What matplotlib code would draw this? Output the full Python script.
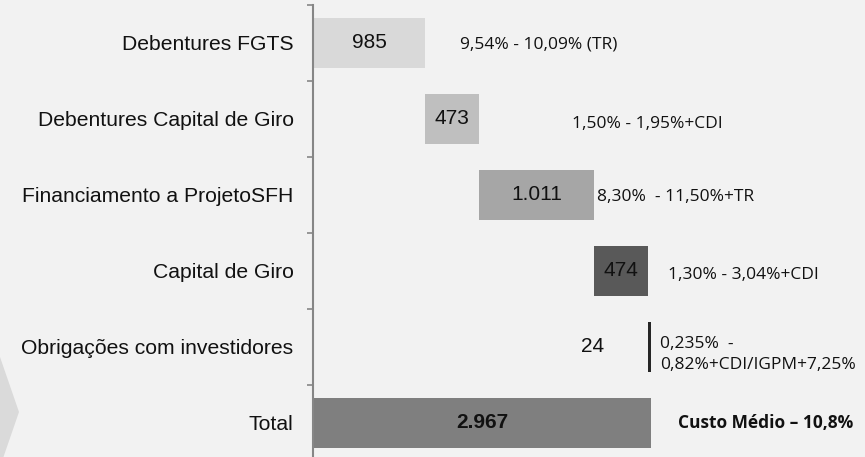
import matplotlib
matplotlib.use("Agg")
import matplotlib.pyplot as plt
from matplotlib.patches import Polygon

# data
categories = ["Debentures FGTS", "Debentures Capital de Giro", "Financiamento a ProjetoSFH",
              "Capital de Giro", "Obrigações com investidores", "Total"]
values = [985, 473, 1011, 474, 24, 2967]
value_labels = ["985", "473", "1.011", "474", "24", "2.967"]
rate_notes = ["9,54% - 10,09% (TR)", "1,50% - 1,95%+CDI", "8,30%  - 11,50%+TR",
              "1,30% - 3,04%+CDI", "0,235%  -\n0,82%+CDI/IGPM+7,25%", "Custo Médio – 10,8%"]
bar_colors = ["#d9d9d9", "#bfbfbf", "#a6a6a6", "#595959", "#262626", "#7f7f7f"]

# layout of the notes (x in data units, y shift in rows)
note_x = [1290, 2270, 2490, 3115, 3045, 3205]
note_dy = [0.02, 0.07, 0.03, 0.05, 0.1, 0.0]

bg = "#f2f2f2"
fig = plt.figure(figsize=(8.65, 4.57), dpi=100, facecolor=bg)

# chevron on the left edge
fig.patches.append(Polygon([(0, 100 / 457), (19 / 865, 45 / 457), (0, -10 / 457)],
                           closed=True, transform=fig.transFigure,
                           facecolor="#dadada", edgecolor="none"))

ax = fig.add_axes([313 / 865, 1 - 461 / 457, 0.5267, 456 / 457])
ax.set_facecolor(bg)

# waterfall lefts
lefts = []
run = 0
for v in values[:-1]:
    lefts.append(run)
    run += v
lefts.append(0)

ys = list(range(len(categories)))
ax.barh(ys, values, left=lefts, height=0.67, color=bar_colors, edgecolor="none")

for i, (v, l, lab) in enumerate(zip(values, lefts, value_labels)):
    if i == len(values) - 1:
        ax.text(l + v / 2, i, lab, ha="center", va="center", fontsize=15,
                fontweight="bold", color="#111111", family="Liberation Sans")
    elif v < 100:
        ax.annotate(lab, (l, i), xytext=(-40, 0), textcoords="offset points",
                    ha="center", va="center", fontsize=15, color="#111111",
                    family="Liberation Sans")
    else:
        ax.text(l + v / 2, i, lab, ha="center", va="center", fontsize=15,
                color="#111111", family="Liberation Sans")

for i, note in enumerate(rate_notes):
    bold = i == len(rate_notes) - 1
    ax.text(note_x[i], i + note_dy[i], note, ha="left", va="center",
            fontsize=12.5, family="Open Sans",
            fontweight="bold" if bold else "normal", color="#111111",
            linespacing=1.4)

ax.set_xlim(0, 4000)
ax.set_ylim(len(categories) - 0.5, -0.5)

ax.set_yticks([i - 0.5 for i in range(len(categories) + 1)])
ax.set_yticklabels([])
ax.set_yticks(ys, minor=True)
ax.set_yticklabels(categories, minor=True, fontsize=15.2, family="Liberation Sans",
                   color="#111111")
ax.tick_params(axis="y", which="major", length=4.5, width=1.2, color="#868686")
ax.tick_params(axis="y", which="minor", length=0, pad=14)
ax.set_xticks([])

for s in ["top", "right", "bottom"]:
    ax.spines[s].set_visible(False)
ax.spines["left"].set_color("#868686")
ax.spines["left"].set_linewidth(1.5)

fig.savefig("out.png", dpi=100, facecolor=bg)
